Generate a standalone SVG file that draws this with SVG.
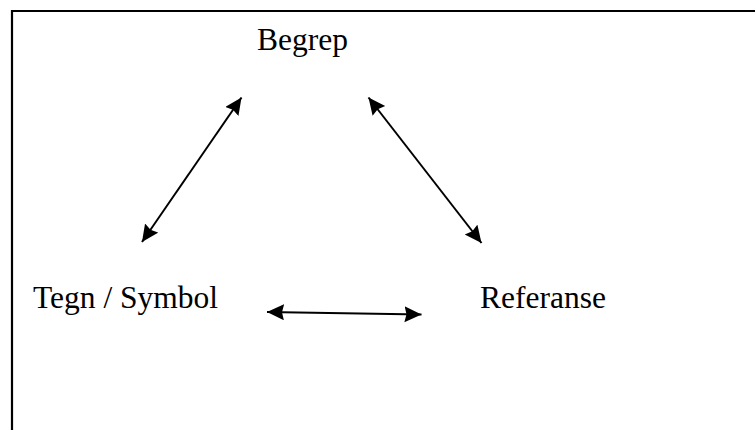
<svg xmlns="http://www.w3.org/2000/svg" width="755" height="430" viewBox="0 0 755 430">
<style>
.lbl{font-family:"Liberation Serif","Times New Roman",serif;font-size:31.5px;fill:#000}
.con{stroke:#000;stroke-width:2;fill:none;marker-start:url(#ah);marker-end:url(#ah)}
</style>
<defs>
<marker id="ah" markerUnits="userSpaceOnUse" markerWidth="18" markerHeight="18" refX="17" refY="8" orient="auto-start-reverse" viewBox="0 0 18 18">
<polygon points="0,0 17,8 0,16 2,8" fill="#000"/>
</marker>
</defs>
<rect width="755" height="430" fill="#fff"/>
<path d="M12,430 V11 H755" stroke="#000" stroke-width="2.2" fill="none"/>
<g id="begrep"><text class="lbl" x="257" y="50">Begrep</text></g>
<g id="tegn"><text class="lbl" x="33" y="308">Tegn / Symbol</text></g>
<g id="referanse"><text class="lbl" x="480" y="308">Referanse</text></g>
<g id="connectors">
<line class="con" x1="142" y1="242" x2="241.5" y2="97.5"/>
<line class="con" x1="368.5" y1="97.5" x2="481.5" y2="243"/>
<line class="con" x1="267" y1="312" x2="421.5" y2="314.5"/>
</g>
</svg>
